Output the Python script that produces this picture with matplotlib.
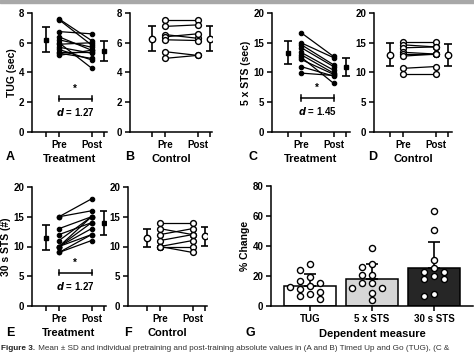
import numpy as np
import matplotlib
matplotlib.use("Agg")
import matplotlib.pyplot as plt
from matplotlib.patches import Rectangle

plt.rcParams['font.family'] = ['Liberation Sans', 'DejaVu Sans']
plt.rcParams['font.weight'] = 'bold'

# ---- data ----
tug_trt_pre = [7.6, 7.55, 6.75, 6.4, 6.2, 6.0, 5.9, 5.7, 5.55, 5.4, 5.3, 5.15]
tug_trt_post = [6.15, 5.85, 6.6, 5.5, 5.7, 4.3, 6.0, 5.3, 4.85, 5.4, 4.95, 5.5]
tug_trt_mean = [6.2, 5.45]
tug_trt_sd = [0.85, 0.68]
tug_con_pre = [7.5, 7.1, 6.55, 6.4, 6.2, 5.4, 4.95]
tug_con_post = [7.5, 7.2, 6.3, 6.6, 6.15, 5.15, 5.15]
tug_con_mean = [6.28, 6.28]
tug_con_sd = [0.85, 0.85]

sts5_trt_pre = [16.7, 15.0, 14.7, 14.2, 13.4, 13.0, 12.6, 12.2, 11.0, 9.9]
sts5_trt_post = [12.7, 12.5, 11.3, 11.0, 10.4, 9.9, 8.2, 9.7, 9.4, 9.5]
sts5_trt_mean = [13.3, 10.9]
sts5_trt_sd = [1.95, 1.5]
sts5_con_pre = [15.1, 14.65, 14.15, 13.4, 13.1, 12.75, 10.7, 9.75]
sts5_con_post = [15.1, 14.3, 14.3, 13.1, 13.1, 13.1, 11.0, 9.75]
sts5_con_mean = [13.0, 13.0]
sts5_con_sd = [1.95, 1.85]

sts30_trt_pre = [15, 15, 13, 12, 11, 10, 10, 10, 10, 9, 9]
sts30_trt_post = [18, 16, 15, 14, 15, 15, 14, 13, 12, 12, 11]
sts30_trt_mean = [11.5, 14.0]
sts30_trt_sd = [2.05, 2.0]
sts30_con_pre = [14, 13, 12, 11, 10, 10, 10]
sts30_con_post = [14, 12, 13, 12, 11, 10, 9]
sts30_con_mean = [11.5, 11.7]
sts30_con_sd = [1.5, 1.65]

measures = ['TUG', '5 x STS', '30 s STS']
change_mean = [13.3, 17.8, 25.6]
change_sd = [8.0, 10.2, 17.3]
change_tug = [27.8, 24.0, 19.1, 16.4, 15.5, 13.3, 12.4, 11.1, 9.6, 8.0, 6.4, 4.7]
change_sts5 = [38.4, 27.8, 26.0, 20.7, 20.7, 15.1, 15.1, 11.8, 11.8, 8.9, 4.0]
change_sts30 = [63.3, 50.7, 30.4, 25.1, 22.9, 22.9, 20.2, 18.2, 18.2, 7.8, 6.9]
bar_colors = ['white', '#d6d6d6', '#262626']

effect_sizes = ['1.27', '1.45', '1.27']

# ---- layout ----
W, H = 474, 353
fig = plt.figure(figsize=(W / 100, H / 100), dpi=100)
fig.patches.append(Rectangle((0, 1 - 3 / H), 1, 3 / H, transform=fig.transFigure,
                             color='#a8a8a8', zorder=0))

PX_UNIT = 13.0  # pixels per x unit in the pre/post panels
X_MEAN_PRE, X_PRE, X_POST, X_MEAN_POST = 0.0, 1.0, 3.5, 4.45


def px_axes(left, right, top, bottom):
    return fig.add_axes([left / W, 1 - bottom / H, (right - left) / W, (bottom - top) / H])


def style(ax):
    for s in ['top', 'right']:
        ax.spines[s].set_visible(False)
    for s in ['left', 'bottom']:
        ax.spines[s].set_linewidth(1.1)
    ax.tick_params(direction='out', length=3.5, width=1.1, labelsize=7, pad=2)
    for lab in ax.get_xticklabels() + ax.get_yticklabels():
        lab.set_fontweight('bold')


def prepost_panel(left, mean_px, right, top, bottom, ymax, ystep, pre, post, mean, sd,
                  filled, ylabel=None, group='', sig=None):
    ax = px_axes(left, right, top, bottom)
    ax.set_xlim((left - mean_px) / PX_UNIT, (right - mean_px) / PX_UNIT)
    ax.set_ylim(0, ymax)
    ax.set_yticks(np.arange(0, ymax + 0.01, ystep))
    ax.set_yticklabels([f'{v:g}' for v in np.arange(0, ymax + 0.01, ystep)])
    ax.set_xticks([X_MEAN_PRE, X_PRE, X_POST, X_MEAN_POST])
    ax.set_xticklabels(['', 'Pre', 'Post', ''])
    style(ax)

    if filled:
        mk = dict(marker='o', ms=3.2, mfc='black', mec='black', mew=0.8)
        mk_mean = dict(marker='s', ms=3.2, mfc='black', mec='black')
    else:
        mk = dict(marker='o', ms=4.2, mfc='white', mec='black', mew=1.0)
        mk_mean = dict(marker='o', ms=4.6, mfc='white', mec='black', mew=1.0)
    for a, b in zip(pre, post):
        ax.plot([X_PRE, X_POST], [a, b], color='black', lw=0.9, clip_on=False, **mk)
    ax.errorbar([X_MEAN_PRE, X_MEAN_POST], mean, yerr=sd, fmt='none', ecolor='black',
                elinewidth=1.2, capsize=2.6, capthick=1.2, zorder=3)
    ax.plot([X_MEAN_PRE, X_MEAN_POST], mean, ls='none', zorder=4, **mk_mean)

    if sig is not None:
        ybar, d = sig
        ax.plot([X_PRE, X_POST], [ybar, ybar], color='black', lw=1.1)
        h = ymax * 0.022
        for xx in (X_PRE, X_POST):
            ax.plot([xx, xx], [ybar - h, ybar + h], color='black', lw=1.1)
        ax.text((X_PRE + X_POST) / 2, ybar + ymax * 0.04, '*', ha='center', va='bottom',
                fontsize=7, fontweight='bold')
        ax.text((X_PRE + X_POST) / 2, ybar - ymax * 0.06, f'$\\mathit{{d}}$ = {d}',
                ha='center', va='top', fontsize=7, fontweight='bold')

    if ylabel:
        ax.set_ylabel(ylabel, fontsize=7.5, fontweight='bold', labelpad=1.5)
    ax.set_xlabel(group, fontsize=8, fontweight='bold', labelpad=3)
    return ax


def letter(x, y, s):
    fig.text(x / W, 1 - y / H, s, fontsize=9, fontweight='bold', ha='left', va='center')


# Row 1
prepost_panel(32, 46, 107, 13, 132, 8, 2, tug_trt_pre, tug_trt_post, tug_trt_mean,
              tug_trt_sd, True, ylabel='TUG (sec)', group='Treatment',
              sig=(2.25, effect_sizes[0]))
prepost_panel(130, 152, 212, 13, 132, 8, 2, tug_con_pre, tug_con_post, tug_con_mean,
              tug_con_sd, False, group='Control')
prepost_panel(272, 288, 350, 13, 132, 20, 5, sts5_trt_pre, sts5_trt_post, sts5_trt_mean,
              sts5_trt_sd, True, ylabel='5 x STS (sec)', group='Treatment',
              sig=(5.7, effect_sizes[1]))
prepost_panel(374, 390, 452, 13, 132, 20, 5, sts5_con_pre, sts5_con_post, sts5_con_mean,
              sts5_con_sd, False, group='Control')

# Row 2
prepost_panel(32, 46, 106, 187, 306, 20, 5, sts30_trt_pre, sts30_trt_post, sts30_trt_mean,
              sts30_trt_sd, True, ylabel='30 s STS (#)', group='Treatment',
              sig=(5.6, effect_sizes[2]))
prepost_panel(128, 147, 207, 187, 306, 20, 5, sts30_con_pre, sts30_con_post, sts30_con_mean,
              sts30_con_sd, False, group='Control')

# Panel G: % change bars
axg = px_axes(271, 473, 186, 306)
BAR_PX = 62.0
axg.set_xlim((271 - 310) / BAR_PX, (473 - 310) / BAR_PX)
axg.set_ylim(0, 80)
axg.set_yticks([0, 20, 40, 60, 80])
xs = np.arange(len(measures))
axg.bar(xs, change_mean, width=0.84, color=bar_colors, edgecolor='black', linewidth=1.1,
        zorder=1)
axg.errorbar(xs, change_mean, yerr=[np.zeros(3), change_sd], fmt='none', ecolor='black',
             elinewidth=1.2, capsize=4.5, capthick=1.2, zorder=2)
axg.set_xticks(xs)
axg.set_xticklabels(measures)
style(axg)
axg.set_ylabel('% Change', fontsize=7.5, fontweight='bold', labelpad=1.5)
axg.set_xlabel('Dependent measure', fontsize=8, fontweight='bold', labelpad=4)


def swarm_offsets(vals, sep_x, min_dist_px, px_per_y):
    # simple beeswarm: place points one at a time at the nearest free slot
    order = np.argsort(vals)[::-1]
    placed = []
    offs = np.zeros(len(vals))
    cands = [0, -1, 1, -2, 2]
    for i in order:
        for c in cands:
            ox = c * sep_x
            ok = True
            for (px_, py_) in placed:
                dx = (ox - px_) * BAR_PX
                dy = (vals[i] - py_) * px_per_y
                if np.hypot(dx, dy) < min_dist_px:
                    ok = False
                    break
            if ok:
                offs[i] = ox
                placed.append((ox, vals[i]))
                break
    return offs


for x0, vals in zip(xs, [change_tug, change_sts5, change_sts30]):
    vals = np.array(vals)
    offs = swarm_offsets(vals, 0.16, 6.5, 120 / 80)
    axg.plot(x0 + offs, vals, ls='none', marker='o', ms=4.4, mfc='white', mec='black',
             mew=1.0, zorder=3, clip_on=False)

# panel letters
letter(6, 157, 'A')
letter(125, 157, 'B')
letter(248, 157, 'C')
letter(368, 157, 'D')
letter(6, 333, 'E')
letter(124, 333, 'F')
letter(246, 333, 'G')

# caption along the lower edge
t1 = fig.text(0.003, 4.5 / H, 'Figure 3.', fontsize=5.9, fontweight='bold', color='#222222',
              ha='left', va='center')
axg.annotate(' Mean \u00b1 SD and individual pretraining and post-training absolute values in '
             '(A and B) Timed Up and Go (TUG), (C &', xy=(1, 0.5), xycoords=t1,
             ha='left', va='center', fontsize=5.9, fontweight='normal', color='#333333',
             annotation_clip=False)

fig.savefig('out.png', dpi=100)
